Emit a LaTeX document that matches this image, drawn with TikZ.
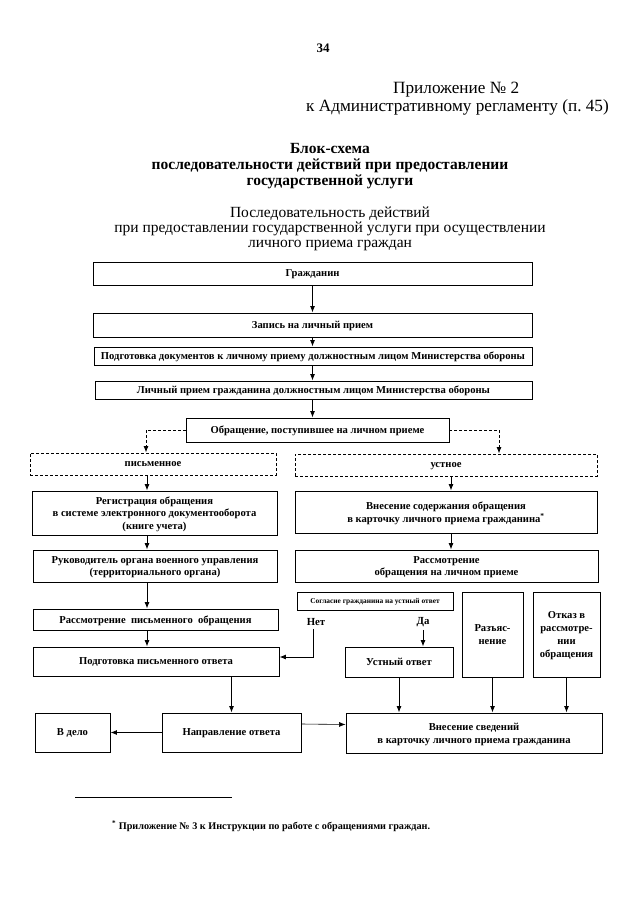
\documentclass[tikz,border=0pt]{standalone}
\usepackage{fontspec}
\setmainfont{Liberation Serif}
\usetikzlibrary{arrows.meta}
\begin{document}
\begin{tikzpicture}[x=1pt,y=-1pt,
  box/.style={draw, line width=0.9pt, inner sep=1pt, align=center, text depth=-4pt,
    font=\bfseries\fontsize{10.6}{12.8}\selectfont},
  dbox/.style={box, dash pattern=on 3pt off 2pt},
  small/.style={box, font=\bfseries\fontsize{7.4}{8.5}\selectfont},
  lbl/.style={inner sep=0, font=\bfseries\fontsize{10.8}{12}\selectfont},
  head/.style={inner sep=0, font=\fontsize{17.2}{19}\selectfont},
  title/.style={inner sep=0, align=center, font=\bfseries\fontsize{15.5}{16}\selectfont},
  sub/.style={inner sep=0, align=center, font=\fontsize{15.5}{15}\selectfont},
  arr/.style={line width=0.9pt, -{Latex[length=6.5pt,width=5pt]}},
  darr/.style={arr, dash pattern=on 3pt off 2pt}]
\fill[white] (0,0) rectangle (640,905);
\useasboundingbox (0,0) rectangle (640,905);
% header
\node[inner sep=0, font=\bfseries\fontsize{13}{15}\selectfont] (pg) at (323,48) {34};
\node[head, anchor=west] (app1) at (393,90) {Приложение №~2};
\node[head, anchor=west] (app2) at (306,107) {к Административному регламенту (п.~45)};
\node[title] (t) at (330,166) {Блок-схема\\последовательности действий при предоставлении\\государственной услуги};
\node[sub] (s) at (330,229) {Последовательность действий\\при предоставлении государственной услуги при осуществлении\\личного приема граждан};
% chain coordinates
\coordinate (tx) at (312.5,0);
\coordinate (lx) at (147,0);
\coordinate (rx) at (451,0);
% boxes
\node[box, minimum width=439pt, minimum height=23pt] (g) at (312.5,273.5) {Гражданин};
\node[box, minimum width=439pt, minimum height=24pt] (z) at (312.5,325) {Запись на личный прием};
\node[box, minimum width=438pt, minimum height=18pt] (pd) at (313,356) {Подготовка документов к личному приему должностным лицом Министерства обороны};
\node[box, minimum width=437pt, minimum height=18pt] (lp) at (313.5,390) {Личный прием гражданина должностным лицом Министерства обороны};
\node[box, minimum width=263pt, minimum height=24pt] (ob) at (317.5,430) {Обращение, поступившее на личном приеме};
\node[dbox, minimum width=246pt, minimum height=22pt] (pis) at (153,464) {письменное};
\node[dbox, minimum width=302pt, minimum height=22pt] (ust) at (446,465) {устное};
\node[box, minimum width=245pt, minimum height=44pt] (reg) at (154.5,513) {Регистрация обращения\\в системе электронного документооборота\\(книге учета)};
\node[box, minimum width=302pt, minimum height=42pt] (vs) at (446,512) {Внесение содержания обращения\\в карточку личного приема гражданина\textsuperscript{*}};
\node[box, minimum width=244pt, minimum height=32pt] (ruk) at (155,566) {Руководитель органа военного управления\\(территориального органа)};
\node[box, minimum width=303pt, minimum height=32pt] (ro) at (446.5,566) {Рассмотрение\\обращения на личном приеме};
\node[box, minimum width=245pt, minimum height=21pt] (rpo) at (155.5,619.5) {Рассмотрение \ письменного \ обращения};
\node[small, minimum width=156pt, minimum height=18pt] (sog) at (375,601) {Согласие гражданина на устный ответ};
\node[box, minimum width=61pt, minimum height=85pt] (raz) at (492.5,634.5) {Разъяс-\\нение};
\node[box, minimum width=67pt, minimum height=85pt] (otk) at (566.5,634.5) {Отказ в\\рассмотре-\\нии\\обращения};
\node[lbl] (net) at (316,622) {Нет};
\node[lbl] (da) at (423,622) {Да};
\node[box, minimum width=246pt, minimum height=29pt] (ppo) at (156,661.5) {Подготовка письменного ответа};
\node[box, minimum width=108pt, minimum height=30pt] (uo) at (399,662) {Устный ответ};
\node[box, minimum width=75pt, minimum height=39pt] (vd) at (72.5,732.5) {В дело};
\node[box, minimum width=139pt, minimum height=39pt] (nap) at (231.5,732.5) {Направление ответа};
\node[box, minimum width=256pt, minimum height=40pt] (vsv) at (474,733) {Внесение сведений\\в карточку личного приема гражданина};
% connectors
\draw[arr] (g.south -| tx) -- (z.north -| tx);
\draw[arr] (z.south -| tx) -- (pd.north -| tx);
\draw[arr] (pd.south -| tx) -- (lp.north -| tx);
\draw[arr] (lp.south -| tx) -- (ob.north -| tx);
\draw[darr] (ob.west) -| ([xshift=-7pt]pis.north);
\draw[darr] (ob.east) -| ([xshift=53pt]ust.north);
\draw[arr] (pis.south -| lx) -- (reg.north -| lx);
\draw[arr] (reg.south -| lx) -- (ruk.north -| lx);
\draw[arr] (ruk.south -| lx) -- (rpo.north -| lx);
\draw[arr] (rpo.south -| lx) -- (ppo.north -| lx);
\draw[arr] (ust.south -| rx) -- (vs.north -| rx);
\draw[arr] (vs.south -| rx) -- (ro.north -| rx);
\draw[arr] ([xshift=-3pt,yshift=-3pt]net.south) |- ([yshift=4.5pt]ppo.east);
\draw[arr] ([yshift=-3pt]da.south) -- (da.south |- uo.north);
\draw[arr] (nap.north |- ppo.south) -- (nap.north);
\draw[arr] (uo.south) -- (uo.south |- vsv.north);
\draw[arr] (raz.south) -- (raz.south |- vsv.north);
\draw[arr] (otk.south) -- (otk.south |- vsv.north);
\draw[arr] (nap.west) -- (vd.east);
\draw[arr, line width=0.6pt] ([yshift=8.5pt]nap.east) -- ([yshift=8.5pt]vsv.west);
% footnote
\draw[line width=0.8pt] (75,797) -- (232,797);
\node[inner sep=0, anchor=west, font=\bfseries\fontsize{10.2}{12}\selectfont] (fn) at (112,826) {\textsuperscript{*}~Приложение №~3 к Инструкции по работе с обращениями граждан.};
\end{tikzpicture}
\end{document}
